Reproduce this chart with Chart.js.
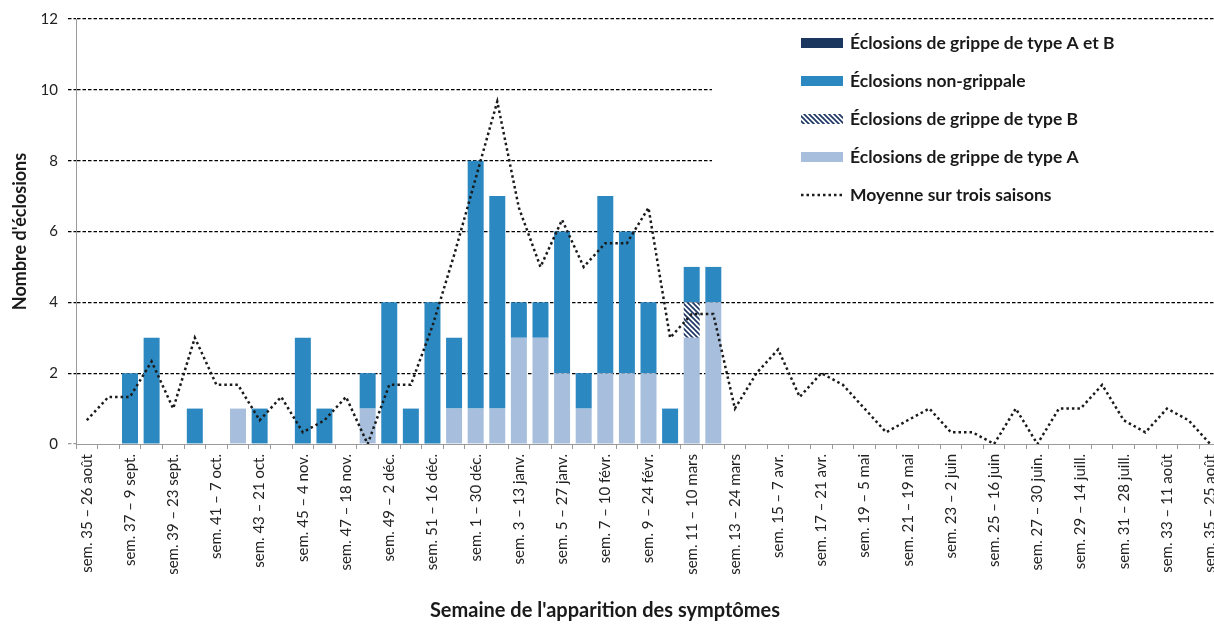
<!DOCTYPE html>
<html>
<head>
<meta charset="utf-8">
<script src="https://cdn.jsdelivr.net/npm/chart.js@4.4.1/dist/chart.umd.min.js"></script>
<style>
  html, body { margin: 0; padding: 0; background: #fff; overflow: hidden; }
</style>
</head>
<body>
<canvas id="chart" width="1221" height="624"></canvas>
<script>
// Weeks of symptom onset (sem. 35 -> sem. 35 the following year)
const weeks = [35, 36, 37, 38, 39, 40, 41, 42, 43, 44, 45, 46, 47, 48, 49, 50, 51, 52,
  1, 2, 3, 4, 5, 6, 7, 8, 9, 10, 11, 12, 13, 14, 15, 16, 17, 18, 19, 20, 21, 22, 23, 24,
  25, 26, 27, 28, 29, 30, 31, 32, 33, 34, 35];

// Only every other week gets a label on the axis
const tickLabels = [
  "sem. 35 – 26 août", "sem. 37 – 9 sept.", "sem. 39 – 23 sept.", "sem. 41 – 7 oct.",
  "sem. 43 – 21 oct.", "sem. 45 – 4 nov.", "sem. 47 – 18 nov.", "sem. 49 – 2 déc.",
  "sem. 51 – 16 déc.", "sem. 1 – 30 déc.", "sem. 3 – 13 janv.", "sem. 5 – 27 janv.",
  "sem. 7 – 10 févr.", "sem. 9 – 24 févr.", "sem. 11 – 10 mars", "sem. 13 – 24 mars",
  "sem. 15 – 7 avr.", "sem. 17 – 21 avr.", "sem. 19 – 5 mai", "sem. 21 – 19 mai",
  "sem. 23 – 2 juin", "sem. 25 – 16 juin", "sem. 27 – 30 juin.", "sem. 29 – 14 juill.",
  "sem. 31 – 28 juill.", "sem. 33 – 11 août", "sem. 35 – 25 août"
];

const typeA = [0, 0, 0, 0, 0, 0, 0, 1, 0, 0, 0, 0, 0, 1, 0, 0, 0, 1,
  1, 1, 3, 3, 2, 1, 2, 2, 2, 0, 3, 4, 0, 0, 0, 0, 0, 0, 0, 0, 0, 0, 0, 0,
  0, 0, 0, 0, 0, 0, 0, 0, 0, 0, 0];

const typeB = [0, 0, 0, 0, 0, 0, 0, 0, 0, 0, 0, 0, 0, 0, 0, 0, 0, 0,
  0, 0, 0, 0, 0, 0, 0, 0, 0, 0, 1, 0, 0, 0, 0, 0, 0, 0, 0, 0, 0, 0, 0, 0,
  0, 0, 0, 0, 0, 0, 0, 0, 0, 0, 0];

const nonGrippale = [0, 0, 2, 3, 0, 1, 0, 0, 1, 0, 3, 1, 0, 1, 4, 1, 4, 2,
  7, 6, 1, 1, 4, 1, 5, 4, 2, 1, 1, 1, 0, 0, 0, 0, 0, 0, 0, 0, 0, 0, 0, 0,
  0, 0, 0, 0, 0, 0, 0, 0, 0, 0, 0];

const typeAB = [0, 0, 0, 0, 0, 0, 0, 0, 0, 0, 0, 0, 0, 0, 0, 0, 0, 0,
  0, 0, 0, 0, 0, 0, 0, 0, 0, 0, 0, 0, 0, 0, 0, 0, 0, 0, 0, 0, 0, 0, 0, 0,
  0, 0, 0, 0, 0, 0, 0, 0, 0, 0, 0];

// Three-season average
const avgThreeSeasons = [0.67, 1.33, 1.33, 2.33, 1, 3, 1.67, 1.67, 0.67, 1.33, 0.33, 0.67,
  1.33, 0, 1.67, 1.67, 3.33, 5.33, 7.5, 9.67, 6.67, 5, 6.33, 5, 5.67, 5.67, 6.67, 3,
  3.67, 3.67, 1, 2, 2.67, 1.33, 2, 1.67, 1, 0.33, 0.67, 1, 0.33, 0.33, 0, 1, 0, 1, 1,
  1.67, 0.67, 0.33, 1, 0.67, 0];

const COL_A    = "#a7bfdd";
const COL_NON  = "#2b88c0";
const COL_AB   = "#1b365f";
const COL_HATCH = "#1f3864";
const FONT = "Lato, 'Open Sans', sans-serif";

// diagonal "\\\" hatch for type B
function makeHatch(color) {
  const s = 5;
  const c = document.createElement("canvas");
  c.width = s; c.height = s;
  const g = c.getContext("2d");
  g.fillStyle = "#fff";
  g.fillRect(0, 0, s, s);
  g.strokeStyle = color;
  g.lineWidth = 1.7;
  for (const k of [-s, 0, s]) {
    g.beginPath();
    g.moveTo(-1, k - 1);
    g.lineTo(s + 1, k + s + 1);
    g.stroke();
  }
  return g.createPattern(c, "repeat");
}
const hatch = makeHatch(COL_HATCH);

// legend drawn inside the plot, on a white box that hides the grid lines
const legendPlugin = {
  id: "boxLegend",
  beforeDatasetsDraw(chart) {
    const ctx = chart.ctx;
    ctx.save();
    ctx.fillStyle = "#fff";
    ctx.fillRect(712, 24, 520, 192);

    const rows = [
      { label: "Éclosions de grippe de type A et B", fill: COL_AB },
      { label: "Éclosions non-grippale", fill: COL_NON },
      { label: "Éclosions de grippe de type B", fill: hatch },
      { label: "Éclosions de grippe de type A", fill: COL_A },
      { label: "Moyenne sur trois saisons", line: true }
    ];
    const x0 = 801, w = 42;
    rows.forEach((r, i) => {
      const y = 43 + i * 38;
      if (r.line) {
        ctx.strokeStyle = "#1a1a1a";
        ctx.lineWidth = 2.5;
        ctx.setLineDash([2.5, 3]);
        ctx.beginPath();
        ctx.moveTo(x0, y);
        ctx.lineTo(x0 + w, y);
        ctx.stroke();
        ctx.setLineDash([]);
      } else {
        ctx.fillStyle = r.fill;
        ctx.fillRect(x0, y - 5, w, 10);
      }
      ctx.fillStyle = "#1a1a1a";
      ctx.font = "bold 17.5px " + FONT;
      ctx.textBaseline = "middle";
      ctx.textAlign = "left";
      ctx.fillText(r.label, 850, y);
    });
    ctx.restore();
  },
  afterDraw(chart) {
    const ctx = chart.ctx;
    ctx.save();
    ctx.fillStyle = "#1a1a1a";
    ctx.font = "bold 20px " + FONT;
    ctx.textAlign = "center";
    ctx.textBaseline = "middle";
    ctx.fillText("Semaine de l'apparition des symptômes", 605, 611);
    ctx.restore();
  }
};

const barCommon = { barPercentage: 0.74, categoryPercentage: 1.0, stack: "eclosions", order: 1, borderWidth: 0 };

new Chart(document.getElementById("chart"), {
  type: "bar",
  data: {
    labels: weeks.map(w => "sem. " + w),
    datasets: [
      { label: "Éclosions de grippe de type A", data: typeA, backgroundColor: COL_A, ...barCommon },
      { label: "Éclosions de grippe de type B", data: typeB, backgroundColor: hatch, ...barCommon },
      { label: "Éclosions non-grippale", data: nonGrippale, backgroundColor: COL_NON, ...barCommon },
      { label: "Éclosions de grippe de type A et B", data: typeAB, backgroundColor: COL_AB, ...barCommon },
      {
        type: "line",
        label: "Moyenne sur trois saisons",
        data: avgThreeSeasons,
        stack: "avg",
        order: 0,
        borderColor: "#1a1a1a",
        borderWidth: 2.5,
        borderDash: [2.5, 3],
        pointRadius: 0,
        tension: 0,
        fill: false
      }
    ]
  },
  options: {
    responsive: false,
    animation: false,
    layout: { padding: { left: 0, right: 0, top: 17, bottom: 0 } },
    plugins: {
      legend: { display: false },
      tooltip: { enabled: false }
    },
    scales: {
      x: {
        stacked: true,
        afterFit: s => { s.height = 180; s.paddingLeft = 0; s.paddingRight = 0; },
        border: { color: "#9a9a9a", width: 1 },
        grid: { drawOnChartArea: false, drawTicks: true, tickLength: 5, color: "#9a9a9a" },
        ticks: {
          autoSkip: false,
          minRotation: 90,
          maxRotation: 90,
          padding: 5,
          color: "#222",
          font: { family: FONT, size: 15 },
          callback: (v, i) => (i % 2 === 0 ? tickLabels[i / 2] : "")
        }
      },
      y: {
        stacked: true,
        min: 0,
        max: 12,
        afterFit: s => { s.width = 76; },
        border: { color: "#9a9a9a", width: 1, dash: [3.5, 2] },
        grid: {
          color: c => (c.tick.value === 0 ? "transparent" : "#000"),
          tickColor: c => (c.tick.value === 0 ? "#9a9a9a" : "#000"),
          lineWidth: 1.2,
          tickLength: 8,
          tickBorderDash: [3.5, 2]
        },
        ticks: {
          stepSize: 2,
          padding: 10,
          color: "#222",
          font: { family: FONT, size: 15 }
        },
        title: {
          display: true,
          text: "Nombre d'éclosions",
          color: "#1a1a1a",
          font: { family: FONT, size: 18, weight: "bold" },
          padding: { top: 9, bottom: 9 }
        }
      }
    }
  },
  plugins: [legendPlugin]
});
</script>
</body>
</html>
